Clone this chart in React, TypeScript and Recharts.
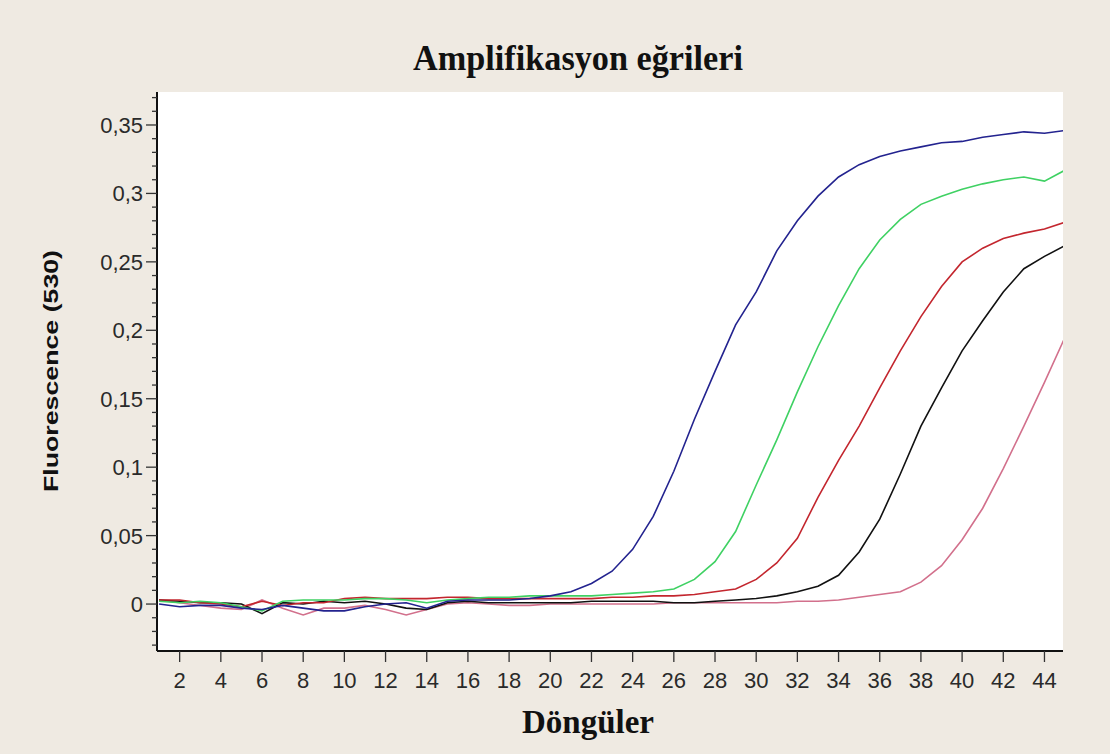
import React from "react";
import { LineChart, Line, XAxis, YAxis } from "recharts";

// cycle numbers (x)
const cycles = [
  1, 2, 3, 4, 5, 6, 7, 8, 9, 10, 11, 12, 13, 14, 15, 16, 17, 18, 19, 20, 21, 22,
  23, 24, 25, 26, 27, 28, 29, 30, 31, 32, 33, 34, 35, 36, 37, 38, 39, 40, 41, 42,
  43, 44, 45,
];

// fluorescence readings
const blueSeries = [
  0.0, -0.002, -0.001, -0.001, -0.003, -0.004, -0.001, -0.003, -0.005, -0.005,
  -0.002, 0.0, 0.001, -0.003, 0.002, 0.003, 0.003, 0.003, 0.004, 0.006, 0.009,
  0.015, 0.024, 0.04, 0.064, 0.097, 0.135, 0.17, 0.204, 0.228, 0.258, 0.28,
  0.298, 0.312, 0.321, 0.327, 0.331, 0.334, 0.337, 0.338, 0.341, 0.343, 0.345,
  0.344, 0.346,
];
const greenSeries = [
  0.002, 0.001, 0.002, 0.001, -0.002, -0.005, 0.002, 0.003, 0.003, 0.003, 0.004,
  0.004, 0.003, 0.001, 0.003, 0.004, 0.005, 0.005, 0.006, 0.006, 0.006, 0.006,
  0.007, 0.008, 0.009, 0.011, 0.018, 0.031, 0.053, 0.087, 0.12, 0.155, 0.188,
  0.218, 0.245, 0.266, 0.281, 0.292, 0.298, 0.303, 0.307, 0.31, 0.312, 0.309,
  0.317,
];
const redSeries = [
  0.003, 0.003, 0.001, 0.0, -0.002, 0.002, -0.001, 0.001, 0.001, 0.004, 0.005,
  0.004, 0.004, 0.004, 0.005, 0.005, 0.004, 0.004, 0.004, 0.004, 0.004, 0.004,
  0.005, 0.005, 0.006, 0.006, 0.007, 0.009, 0.011, 0.018, 0.03, 0.048, 0.078,
  0.105, 0.13, 0.158, 0.185, 0.21, 0.232, 0.25, 0.26, 0.267, 0.271, 0.274,
  0.279,
];
const blackSeries = [
  0.003, 0.002, 0.001, 0.001, 0.0, -0.007, 0.001, 0.0, 0.002, 0.001, 0.002, 0.0,
  -0.003, -0.004, 0.001, 0.002, 0.001, 0.001, 0.001, 0.001, 0.001, 0.002, 0.002,
  0.002, 0.002, 0.001, 0.001, 0.002, 0.003, 0.004, 0.006, 0.009, 0.013, 0.021,
  0.038, 0.062, 0.095, 0.13, 0.158, 0.185, 0.207, 0.228, 0.245, 0.254, 0.262,
];
const pinkSeries = [
  0.003, 0.001, -0.001, -0.003, -0.004, 0.003, -0.003, -0.008, -0.003, -0.003,
  -0.001, -0.004, -0.008, -0.004, 0.0, 0.001, 0.0, -0.001, -0.001, 0.0, 0.0, 0.0,
  0.0, 0.0, 0.0, 0.001, 0.001, 0.001, 0.001, 0.001, 0.001, 0.002, 0.002, 0.003,
  0.005, 0.007, 0.009, 0.016, 0.028, 0.047, 0.07, 0.099, 0.13, 0.162, 0.195,
];

const xTicks = [
  2, 4, 6, 8, 10, 12, 14, 16, 18, 20, 22, 24, 26, 28, 30, 32, 34, 36, 38, 40, 42,
  44,
];
const yMajorTicks = [0, 0.05, 0.1, 0.15, 0.2, 0.25, 0.3, 0.35];
const yMinorTicks = [
  -0.03, -0.02, -0.01, 0, 0.01, 0.02, 0.03, 0.04, 0.05, 0.06, 0.07, 0.08, 0.09,
  0.1, 0.11, 0.12, 0.13, 0.14, 0.15, 0.16, 0.17, 0.18, 0.19, 0.2, 0.21, 0.22,
  0.23, 0.24, 0.25, 0.26, 0.27, 0.28, 0.29, 0.3, 0.31, 0.32, 0.33, 0.34, 0.35,
  0.36, 0.37,
];

const series = [
  { key: "pink", values: pinkSeries, color: "#d2708c" },
  { key: "black", values: blackSeries, color: "#111111" },
  { key: "red", values: redSeries, color: "#c3262e" },
  { key: "green", values: greenSeries, color: "#3fd163" },
  { key: "blue", values: blueSeries, color: "#23238f" },
];

const data = cycles.map((c, i) => {
  const row: Record<string, number> = { cycle: c };
  series.forEach((s) => (row[s.key] = s.values[i]));
  return row;
});

const BG = "#efeae2";
const sans = "'Liberation Sans', Arial, sans-serif";
const serif = "'Liberation Serif', 'Times New Roman', serif";

const fmt = (v: number) => String(Math.round(v * 100) / 100).replace(".", ",");

// y tick: long line + label on the 0.05 steps, short line elsewhere
const YTick = (props: any) => {
  const { x, y, payload } = props;
  const v = payload.value as number;
  const major = yMajorTicks.some((m) => Math.abs(m - v) < 1e-6);
  return (
    <g>
      <line x1={x - (major ? 11 : 5)} x2={x} y1={y} y2={y} stroke="#333" strokeWidth={1.3} />
      {major && (
        <text
          x={x - 14}
          y={y}
          dy="0.36em"
          textAnchor="end"
          fontFamily={sans}
          fontSize={22}
          fill="#2a2a2a"
        >
          {fmt(v)}
        </text>
      )}
    </g>
  );
};

export default function App() {
  return (
    <div
      style={{
        position: "absolute",
        left: 0,
        top: 0,
        width: 1110,
        height: 754,
        background: BG,
      }}
    >
      <LineChart
        width={1110}
        height={754}
        data={data}
        margin={{ top: 92, right: 47, bottom: 53, left: 0 }}
      >
        <rect x={157} y={92} width={906} height={559} fill="#ffffff" />
        <XAxis
          dataKey="cycle"
          type="number"
          domain={[0.9, 44.9]}
          allowDataOverflow
          ticks={xTicks}
          interval={0}
          height={50}
          tickSize={11}
          tickMargin={10}
          axisLine={{ stroke: "#111", strokeWidth: 2 }}
          tickLine={{ stroke: "#333", strokeWidth: 1.3 }}
          tick={{ fontFamily: sans, fontSize: 22, fill: "#2a2a2a" }}
        />
        <XAxis
          xAxisId="top"
          orientation="top"
          dataKey="cycle"
          type="number"
          domain={[0.9, 44.9]}
          height={0}
          tick={false}
          tickLine={false}
          axisLine={{ stroke: "#111", strokeWidth: 2 }}
        />
        <YAxis
          type="number"
          domain={[-0.0343, 0.3741]}
          allowDataOverflow
          ticks={yMinorTicks}
          interval={0}
          width={157}
          tickSize={0}
          tickMargin={0}
          tickLine={false}
          axisLine={{ stroke: "#111", strokeWidth: 2 }}
          tick={<YTick />}
        />
        <YAxis
          yAxisId="right"
          orientation="right"
          type="number"
          domain={[-0.0343, 0.3741]}
          width={0}
          tick={false}
          tickLine={false}
          axisLine={{ stroke: "#111", strokeWidth: 2 }}
        />
        {series.map((s) => (
          <Line
            key={s.key}
            dataKey={s.key}
            type="linear"
            stroke={s.color}
            strokeWidth={1.6}
            dot={false}
            activeDot={false}
            isAnimationActive={false}
          />
        ))}
      </LineChart>

      <svg
        width={1110}
        height={754}
        style={{ position: "absolute", left: 0, top: 0, pointerEvents: "none" }}
      >
        <text
          x={578}
          y={70}
          textAnchor="middle"
          fontFamily={serif}
          fontWeight="bold"
          fontSize={36}
          textLength={330}
          lengthAdjust="spacingAndGlyphs"
          fill="#111"
        >
          Amplifikasyon eğrileri
        </text>
        <text
          x={0}
          y={0}
          transform="translate(58,371) rotate(-90)"
          textAnchor="middle"
          fontFamily={sans}
          fontWeight="bold"
          fontSize={21}
          textLength={242}
          lengthAdjust="spacingAndGlyphs"
          fill="#111"
        >
          Fluorescence (530)
        </text>
        <text
          x={588}
          y={733}
          textAnchor="middle"
          fontFamily={serif}
          fontWeight="bold"
          fontSize={33}
          fill="#111"
        >
          Döngüler
        </text>
      </svg>
    </div>
  );
}
